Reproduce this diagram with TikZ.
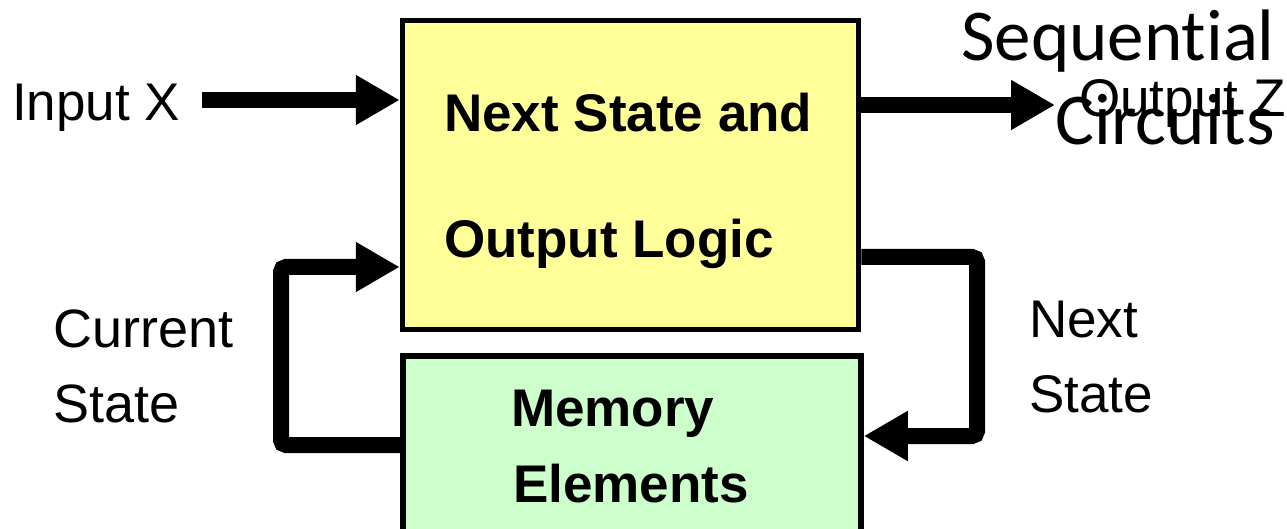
\documentclass[tikz,border=0pt]{standalone}
\usepackage{fontspec}
\setmainfont{Liberation Sans}
\newfontfamily\titlefont[Ligatures=NoCommon]{Carlito}
\usetikzlibrary{arrows.meta}

\definecolor{logicfill}{HTML}{FFFF99}
\definecolor{memfill}{HTML}{CCFFCC}

\tikzset{
  blockbox/.style={draw=black, line width=5.5pt, rectangle, inner sep=0pt},
  flow/.style={line width=16pt, -{Triangle[length=44pt,width=47pt]}, rounded corners=5pt},
  lbl/.style={inner sep=0pt, anchor=base west, font=\fontsize{53}{62}\selectfont},
  blbl/.style={lbl, font=\fontsize{53}{62}\selectfont\bfseries},
  ttl/.style={inner sep=0pt, anchor=base east, font=\fontsize{73}{86}\selectfont\titlefont}
}

\begin{document}
\begin{tikzpicture}[x=1pt, y=-1pt]
  \useasboundingbox (0,0) rectangle (1287,529);
  \clip (0,0) rectangle (1287,529);

  % the two blocks
  \node[blockbox, fill=logicfill, minimum width=456pt, minimum height=309pt] (logic) at (630.5,175) {};
  \node[blockbox, fill=memfill, minimum width=458pt, minimum height=204pt] (mem) at (632,458) {};

  % block captions
  \node[blbl] (l1) at (444,132) {Next State and};
  \node[blbl] (l2) at (444,258) {Output Logic};
  \node[blbl] (m1) at (511,426) {Memory};
  \node[blbl] (m2) at (513,502) {Elements};

  % input and output
  \coordinate (inX) at (202,100);
  \coordinate (outZ) at (1055,105);
  \draw[flow] (inX) -- (logic.west |- inX);
  \draw[flow] (logic.east |- outZ) -- (outZ);

  % feedback loop: logic -> memory -> logic
  \coordinate (rc) at (977,257);
  \coordinate (lc) at (281,445);
  \draw[flow] (logic.east |- rc) -- (rc) -- (rc |- 0,436) -- (mem.east |- 0,436);
  \draw[flow] (mem.west |- lc) -- (lc) -- (lc |- 0,267) -- (logic.west |- 0,267);

  % signal labels
  \node[lbl] (tin) at (12,121) {Input X};
  \node[lbl, font=\fontsize{54}{62}\selectfont] (cs1) at (53,347) {Current};
  \node[lbl, font=\fontsize{54}{62}\selectfont] (cs2) at (53,422) {State};
  \node[lbl] (ns1) at (1029,337) {Next};
  \node[lbl] (ns2) at (1029,412) {State};
  \node[lbl] (tout) at (1079,117) {Output Z};

  % heading
  \node[ttl] (h1) at (1275,61) {Sequential};
  \node[ttl] (h2) at (1275,145) {Circuits};
\end{tikzpicture}
\end{document}
